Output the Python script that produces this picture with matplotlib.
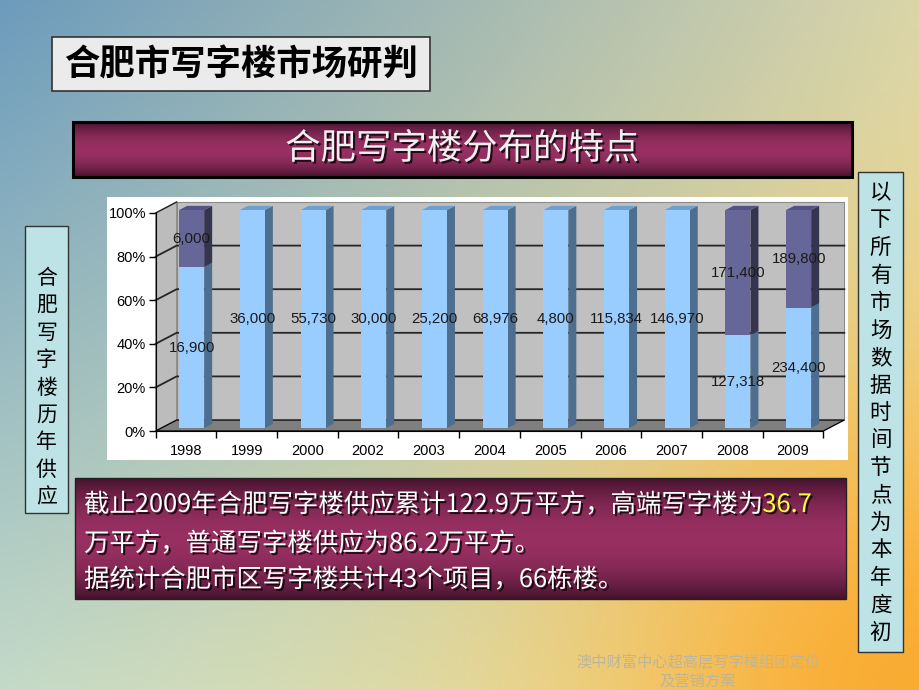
import numpy as np
import matplotlib
matplotlib.use('Agg')
import matplotlib.pyplot as plt
from matplotlib.patches import Rectangle, Polygon
import matplotlib.patheffects as pe

# ---------------- data ----------------
years = ['1998', '1999', '2000', '2002', '2003', '2004', '2005', '2006', '2007', '2008', '2009']
normal_supply = [16900, 36000, 55730, 30000, 25200, 68976, 4800, 115834, 146970, 127318, 234400]
high_end_supply = [6000, 0, 0, 0, 0, 0, 0, 0, 0, 171400, 189800]
y_ticks = [0, 20, 40, 60, 80, 100]

title_text = '合肥市写字楼市场研判'
banner_text = '合肥写字楼分布的特点'
left_label = '合肥写字楼历年供应'
right_label = '以下所有市场数据时间节点为本年度初'
summary_line1 = '截止2009年合肥写字楼供应累计122.9万平方，高端写字楼为'
summary_highlight = '36.7'
summary_line2 = '万平方，普通写字楼供应为86.2万平方。'
summary_line3 = '据统计合肥市区写字楼共计43个项目，66栋楼。'
footer_lines = ['澳中财富中心超高层写字楼组团定位', '及营销方案']

CJK = ['Noto Sans CJK SC', 'DejaVu Sans']
NUM = ['Liberation Sans', 'DejaVu Sans']

W, H = 920, 690
fig = plt.figure(figsize=(9.2, 6.9), dpi=100)
bg = fig.add_axes([0, 0, 1, 1])
bg.axis('off')

# ---------------- background gradient ----------------
yy, xx = np.mgrid[0:H, 0:W]
u = (xx / (W - 1))[..., None]
v = (yy / (H - 1))[..., None]
TL = np.array([108, 155, 188]); TR = np.array([218, 214, 170])
BL = np.array([196, 218, 200]); BR = np.array([250, 226, 140])
img = (1 - u) * (1 - v) * TL + u * (1 - v) * TR + (1 - u) * v * BL + u * v * BR
d2 = (xx - W) ** 2 + (yy - H) ** 2
wgt = np.exp(-d2 / (2 * 230.0 ** 2))[..., None]
img = img * (1 - wgt) + np.array([250, 172, 50]) * wgt
bg.imshow(np.clip(img / 255, 0, 1), extent=(0, W, H, 0), aspect='auto', zorder=0)


def grad_box(x0, y0, x1, y1, edge='black', lw=2.0):
    t = np.linspace(0, 1, 64)
    prof = np.sin(np.pi * t) ** 0.8
    dark = np.array([68, 18, 44]); mid = np.array([152, 48, 98])
    col = dark + (mid - dark) * prof[:, None]
    g = np.repeat(col[:, None, :], 2, axis=1) / 255
    bg.imshow(g, extent=(x0, x1, y1, y0), aspect='auto', zorder=2, interpolation='bilinear')
    bg.add_patch(Rectangle((x0, y0), x1 - x0, y1 - y0, fill=False, ec=edge, lw=lw, zorder=3))


shadow = [pe.withSimplePatchShadow(offset=(1.5, -1.5), shadow_rgbFace='black', alpha=0.75)]

# title box
bg.add_patch(Rectangle((52, 37), 378, 54, fc='#ebebeb', ec='#333333', lw=1.2, zorder=2))
bg.text(241, 65, title_text, ha='center', va='center', fontsize=25.5, weight='bold',
        family=CJK, color='black', zorder=4)

# banner
grad_box(73, 122, 852, 177, edge='black', lw=2.2)
bg.text(462, 149, banner_text, ha='center', va='center', fontsize=25.5, color='#f0f0f0',
        family=CJK, zorder=4, path_effects=shadow)

# left vertical box
bg.add_patch(Rectangle((25, 226), 43, 287, fc='#bde3e6', ec='#333333', lw=1.0, zorder=2))
for k, ch in enumerate(left_label):
    bg.text(46.5, 278 + 27.4 * k, ch, ha='center', va='center', fontsize=15,
            family=CJK, color='black', zorder=4)

# right vertical box
bg.add_patch(Rectangle((858, 172), 45, 480, fc='#bde3e6', ec='#333333', lw=1.0, zorder=2))
for k, ch in enumerate(right_label):
    bg.text(880.5, 193 + 27.5 * k, ch, ha='center', va='center', fontsize=15.5,
            family=CJK, color='black', zorder=4)

# summary box
grad_box(75, 478, 846, 599, edge='#222222', lw=1.0)
FS = 18.3
t1 = bg.text(84, 505, summary_line1, ha='left', va='center', fontsize=FS, color='white',
             family=CJK, zorder=4, path_effects=shadow)
bg.annotate(summary_highlight, xy=(1, 0.5), xycoords=t1, ha='left', va='center',
            fontsize=FS, color='#ffff33', family=CJK, zorder=4, path_effects=shadow)
bg.text(84, 544, summary_line2, ha='left', va='center', fontsize=FS, color='white',
        family=CJK, zorder=4, path_effects=shadow)
bg.text(84, 580, summary_line3, ha='left', va='center', fontsize=FS, color='white',
        family=CJK, zorder=4, path_effects=shadow)

# footer
for k, line in enumerate(footer_lines):
    bg.text(698, 663 + 18 * k, line, ha='center', va='center', fontsize=11,
            color='#bdb59a', family=CJK, zorder=4)

# white chart panel
bg.add_patch(Rectangle((107, 197), 741, 263, fc='white', ec='none', zorder=2))

bg.set_xlim(0, W)
bg.set_ylim(H, 0)

# ---------------- chart ----------------
sx, sy = 60.7, 2.18
x0px, y0px = 186, 431
xlo, xhi = -0.9, 10.95
ylo, yhi = -3, 108
left = x0px + sx * xlo; right = x0px + sx * xhi
bottom = y0px - sy * ylo; top = y0px - sy * yhi
ax = fig.add_axes([left / W, 1 - bottom / H, (right - left) / W, (bottom - top) / H])
ax.set_xlim(xlo, xhi)
ax.set_ylim(ylo, yhi)
ax.patch.set_alpha(0)

n = len(years)
Dx, Dy = 21 / sx, 11 / sy
xl, xr = -0.5, n - 0.5

ax.add_patch(Polygon([(xl + Dx, Dy), (xr + Dx, Dy), (xr + Dx, 100 + Dy), (xl + Dx, 100 + Dy)],
                     closed=True, fc='#c0c0c0', ec='#8a8a8a', lw=0.8, zorder=1))
ax.add_patch(Polygon([(xl, 0), (xl + Dx, Dy), (xl + Dx, 100 + Dy), (xl, 100)],
                     closed=True, fc='#bcbcbc', ec='#8a8a8a', lw=0.8, zorder=1))
ax.add_patch(Polygon([(xl, 0), (xr, 0), (xr + Dx, Dy), (xl + Dx, Dy)],
                     closed=True, fc='#7f7f7f', ec='black', lw=0.9, zorder=1))
for t in y_ticks[1:-1]:
    ax.plot([xl, xl + Dx, xr + Dx], [t, t + Dy, t + Dy], color='#262626', lw=1.3, zorder=2)
ax.plot([xl, xl + Dx], [100, 100 + Dy], color='#262626', lw=1.0, zorder=2)

# bars
tot = np.array(normal_supply, float) + np.array(high_end_supply, float)
pct_lo = 100 * np.array(normal_supply) / tot
pct_hi = 100 * np.array(high_end_supply) / tot
f0, f1 = 0.27, 0.65
bw = 25 / sx
xs = np.arange(n) + f0 * Dx
base = f0 * Dy
ddx, ddy = (f1 - f0) * Dx, (f1 - f0) * Dy

front_cols = ['#99ccff', '#666699']
side_cols = ['#4d6e8e', '#35354f']
top_cols = ['#6f9fcf', '#525287']

ax.bar(xs, pct_lo, width=bw, bottom=base, color=front_cols[0], zorder=4)
ax.bar(xs, pct_hi, width=bw, bottom=base + pct_lo, color=front_cols[1], zorder=4)

for i in range(n):
    segs = [(0, pct_lo[i], 0), (pct_lo[i], pct_lo[i] + pct_hi[i], 1)]
    segs = [s for s in segs if s[1] - s[0] > 0]
    bl = xs[i] - bw / 2; br = xs[i] + bw / 2
    for (a, b, c) in segs:
        ya, yb = base + a, base + b
        ax.add_patch(Polygon([(br, ya), (br + ddx, ya + ddy), (br + ddx, yb + ddy), (br, yb)],
                             closed=True, fc=side_cols[c], ec='none', zorder=3))
    a, b, c = segs[-1]
    yt = base + b
    ax.add_patch(Polygon([(bl, yt), (br, yt), (br + ddx, yt + ddy), (bl + ddx, yt + ddy)],
                         closed=True, fc=top_cols[c], ec='none', zorder=3))

# data labels
for i in range(n):
    if normal_supply[i] > 0:
        ax.text(xs[i], base + pct_lo[i] / 2, f'{normal_supply[i]:,}', ha='center', va='center',
                fontsize=10.8, family=NUM, color='#1a1a1a', zorder=6)
    if high_end_supply[i] > 0:
        ax.text(xs[i], base + pct_lo[i] + pct_hi[i] / 2, f'{high_end_supply[i]:,}', ha='center',
                va='center', fontsize=10.8, family=NUM, color='#1a1a1a', zorder=6)

# axes styling
for s in ['top', 'right']:
    ax.spines[s].set_visible(False)
ax.spines['left'].set_position(('data', xl))
ax.spines['left'].set_bounds(0, 100)
ax.spines['bottom'].set_position(('data', 0))
ax.spines['bottom'].set_bounds(xl, xr)
ax.spines['left'].set_zorder(5)
ax.spines['bottom'].set_zorder(5)

ax.set_yticks(y_ticks)
ax.set_yticklabels([f'{t}%' for t in y_ticks], family=NUM, fontsize=10.5)
ax.tick_params(axis='y', length=5, width=1, pad=2)
ax.set_xticks(np.arange(n))
ax.set_xticklabels(years, family=NUM, fontsize=10.5)
ax.set_xticks(np.arange(n + 1) - 0.5, minor=True)
ax.tick_params(axis='x', which='major', length=0, pad=9)
ax.tick_params(axis='x', which='minor', length=5, width=1)

fig.savefig('out.png', dpi=100)
